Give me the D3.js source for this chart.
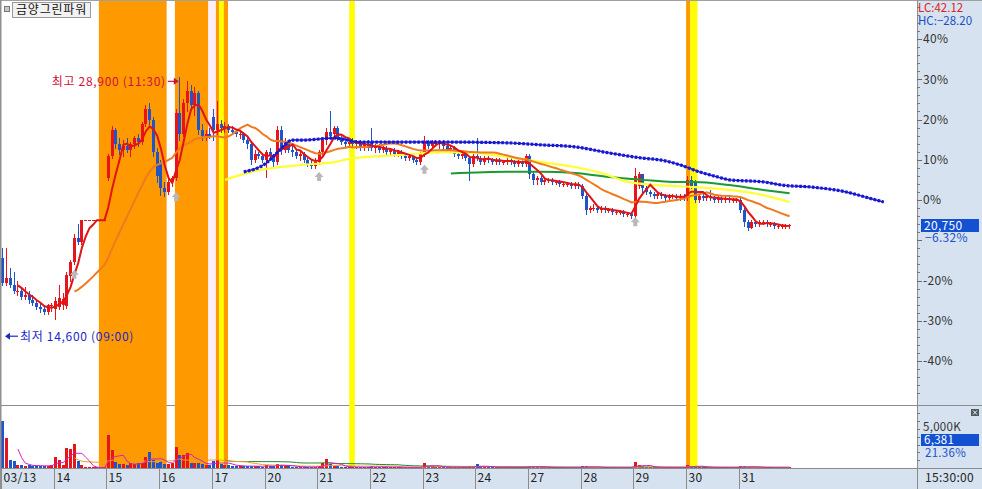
<!DOCTYPE html>
<html><head><meta charset="utf-8">
<script src="https://cdn.jsdelivr.net/npm/d3@7"></script>
<style>
body{margin:0;background:#fff;}
svg{display:block;font-family:"Noto Sans CJK KR","Noto Sans",sans-serif;font-size:12px;letter-spacing:0.3px;}
</style>
</head><body>
<svg id="c" width="982" height="489"></svg>
<script>
// ---------------- DATA ----------------
const stockName = "금양그린파워";
const days = ["03/13","14","15","16","17","20","21","22","23","24","27","28","29","30","31"];
const barsPerDay = 14;             // 30-minute bars 09:00 .. 15:30
const basePrice = 22150;           // 0% reference price
const closeTime = "15:30:00";

// OHLC in % versus basePrice, one value per 30-min bar
const open = [
 -14.5,-20.5,-19.5,-21.0,-22.5,-22.5,-24.0,-23.6,-24.8,-25.6,-26.5,-27.2,-27.8,-26.2,
 -27.0,-26.5,-26.0,-26.3,-19.0,-15.5,-9.5,-10.5,-5,-5,-5,-5,-5,-5,
 5.5,11.0,17.5,14.0,12.5,13.5,12.5,14.0,15.5,14.5,19.0,22.5,20.0,12.0,
 9.0,3.0,2.0,4.5,5.5,21.5,16.5,24.0,27.0,23.5,26.5,17.5,16.0,16.5,
 20.5,17.5,19.0,18.0,18.5,17.5,17.0,16.5,16.5,15.0,14.0,10.0,11.5,11.0,
 10.0,12.0,11.0,9.5,17.5,12.5,14.5,12.5,12.0,11.0,11.5,10.0,9.0,8.5,
 9.5,12.0,15.0,17.0,16.5,18.0,15.5,14.5,14.0,14.5,14.0,14.5,13.0,14.0,
 14.5,13.0,13.5,12.5,13.0,12.0,12.5,11.5,12.0,11.0,10.5,11.0,10.0,9.5,
 11.5,14.5,13.5,14.5,14.0,14.5,13.5,12.5,13.0,11.5,11.0,11.5,10.5,9.0,
 11.0,10.5,9.5,10.5,10.0,9.5,10.0,9.5,9.5,10.0,9.5,9.0,9.5,9.0,
 11.0,6.5,5.0,5.5,4.5,5.0,5.0,4.5,4.5,4.0,4.0,4.0,3.5,4.0,
 3.5,1.0,-2.5,-2.0,-2.0,-2.5,-2.0,-2.5,-2.5,-3.0,-3.0,-3.0,-3.5,-3.5,
 -4.0,3.5,6.5,3.0,2.0,1.5,1.0,1.5,1.0,0.5,1.0,1.0,0.5,1.0,
 0.5,5.0,4.5,0.0,1.0,0.5,1.0,0.5,0.0,0.5,0.0,0.5,0.0,0.0,
 0.0,-2.5,-5.5,-7.0,-5.5,-6.0,-5.5,-5.5,-6.0,-6.0,-6.5,-6.5,-6.5,-6.5
];
const high = [
 -11.9,-12.0,-17.0,-18.0,-20.0,-21.5,-21.5,-22.5,-23.5,-24.5,-25.5,-26.0,-25.8,-25.5,
 -24.0,-21.0,-23.0,-18.0,-15.0,-8.5,-6.0,-5.0,-5,-5,-5,-5,-5,-5,
 11.5,18.5,18.0,15.5,15.0,15.5,14.5,16.0,16.5,19.5,23.5,24.0,20.5,13.0,
 10.0,4.5,5.5,6.0,22.5,30.6,25.0,29.5,28.5,28.0,27.0,19.0,17.5,18.0,
 22.5,24.5,20.0,19.5,19.0,18.5,17.5,17.5,17.0,15.5,14.5,12.5,12.0,11.5,
 12.5,13.0,11.5,18.5,18.5,15.5,15.0,13.5,12.5,12.0,12.0,10.5,10.0,10.5,
 12.5,15.5,18.0,22.0,18.5,18.5,16.0,15.5,15.0,15.5,15.0,15.0,14.5,15.0,
 18.0,14.0,14.0,13.5,13.5,13.0,13.0,12.5,12.5,11.5,11.5,11.0,10.5,12.0,
 16.0,15.0,15.0,15.0,15.0,15.0,14.0,13.5,13.5,12.0,12.0,12.0,11.0,11.5,
 15.5,11.0,11.0,11.0,10.5,10.5,10.5,10.0,10.5,10.5,10.0,10.0,10.0,11.5,
 11.5,7.0,6.0,6.0,5.5,5.5,5.5,5.0,5.0,4.5,4.5,4.5,4.5,4.5,
 4.0,1.5,-1.5,-1.0,-1.5,-1.5,-1.5,-2.0,-2.0,-2.5,-2.5,-2.5,-3.0,-3.0,
 8.0,7.0,6.5,3.5,2.5,2.0,2.0,2.0,1.5,1.5,1.5,1.5,1.5,1.5,
 6.0,6.0,5.0,1.5,1.5,1.5,2.5,1.0,1.0,1.0,1.0,1.0,0.5,0.5,
 1.0,-2.0,-5.0,-5.0,-5.0,-5.0,-5.0,-5.0,-5.5,-5.5,-6.0,-6.0,-6.0,-6.0
];
const low = [
 -21.0,-21.0,-21.5,-23.0,-23.5,-24.5,-24.5,-25.5,-26.0,-27.0,-27.8,-28.3,-28.3,-27.6,
 -29.5,-27.0,-27.0,-26.8,-20.0,-16.0,-11.0,-11.0,-5,-5,-5,-5,-5,-5,
 5.0,10.5,13.0,11.5,11.0,12.0,11.0,13.0,13.5,14.0,18.5,19.0,11.0,4.5,
 1.2,1.0,1.5,3.5,5.0,15.0,16.0,22.0,22.5,21.0,16.5,15.0,15.0,15.5,
 15.0,16.5,17.0,17.0,17.0,16.5,16.0,15.5,14.5,13.0,9.0,9.5,10.5,9.5,
 5.7,10.0,8.5,9.0,11.5,12.0,12.0,11.0,10.5,10.0,9.5,8.5,8.0,8.0,
 9.0,11.5,14.0,15.5,15.5,15.0,14.0,13.5,13.5,13.5,13.0,12.5,12.5,12.5,
 12.5,12.0,12.0,12.0,11.5,11.5,11.0,11.0,10.5,10.0,10.0,9.5,9.0,9.0,
 11.0,13.0,13.0,13.5,13.0,13.0,12.0,12.0,11.0,10.5,10.5,10.0,5.0,8.5,
 10.0,9.0,9.0,9.5,9.0,9.0,9.0,9.0,9.0,9.0,8.5,8.5,8.5,8.5,
 5.5,4.0,4.0,4.0,4.0,4.5,4.0,4.0,3.5,3.5,3.5,3.0,3.0,3.0,
 0.5,-3.5,-3.0,-2.5,-3.0,-3.0,-3.0,-3.0,-3.5,-3.5,-3.5,-4.0,-4.0,-4.5,
 -4.5,3.0,2.0,1.5,1.0,0.5,0.5,0.5,0.0,0.0,0.5,0.0,0.0,0.0,
 0.0,3.0,-0.5,-0.5,0.0,0.0,0.0,-0.5,-0.5,-0.5,-0.5,-0.5,-0.5,-0.5,
 -3.0,-6.5,-7.5,-7.0,-6.5,-6.5,-6.0,-6.5,-6.5,-7.0,-7.0,-7.0,-7.0,-7.0
];
const close = [
 -20.5,-19.5,-21.0,-22.5,-22.5,-24.0,-23.6,-24.8,-25.6,-26.5,-27.2,-27.8,-26.2,-26.0,
 -25.0,-24.3,-24.5,-18.6,-15.5,-9.5,-10.5,-5.0,-5,-5,-5,-5,-5,-5,
 11.0,17.5,14.0,12.5,13.5,12.5,14.0,15.5,14.5,19.0,22.5,20.0,12.0,6.0,
 3.0,2.0,4.5,5.5,21.5,16.5,24.0,27.0,23.5,26.5,17.5,16.0,16.5,16.0,
 17.5,19.0,18.0,18.5,17.5,17.0,16.5,16.5,15.0,14.0,10.0,11.5,11.0,10.0,
 12.0,11.0,9.5,17.5,12.5,14.5,12.5,12.0,11.0,11.5,10.0,9.0,8.5,9.5,
 12.0,15.0,17.0,16.0,18.0,15.5,14.5,14.0,14.5,14.0,14.5,13.0,14.0,13.0,
 13.0,13.5,12.5,13.0,12.0,12.5,11.5,12.0,11.0,10.5,11.0,10.0,9.5,11.5,
 14.5,13.5,14.5,14.0,14.5,13.5,12.5,13.0,11.5,11.0,11.5,10.5,9.0,11.0,
 10.5,9.5,10.5,10.0,9.5,10.0,9.5,9.5,10.0,9.5,9.0,9.5,9.0,11.0,
 6.5,5.0,5.5,4.5,5.0,5.0,4.5,4.5,4.0,4.0,4.0,3.5,4.0,3.5,
 1.0,-2.5,-2.0,-2.0,-2.5,-2.0,-2.5,-2.5,-3.0,-3.0,-3.0,-3.5,-3.5,-4.0,
 6.0,6.5,3.0,2.0,1.5,1.0,1.5,1.0,0.5,1.0,1.0,0.5,1.0,0.5,
 5.0,3.5,0.0,1.0,0.5,1.0,0.5,0.0,0.5,0.0,0.5,0.0,0.0,0.0,
 -2.5,-5.5,-7.0,-5.5,-6.0,-5.5,-5.5,-6.0,-6.0,-6.5,-6.5,-6.5,-6.5,-6.3
];
// volume in thousand shares
const volume = [
 6000,3840,1020,930,380,380,300,350,250,300,280,250,300,400,
 1400,1000,400,2560,2430,3070,940,400,60,40,30,30,30,50,
 4220,2300,770,500,450,400,600,500,700,700,1400,2050,1000,600,
 900,500,500,700,2700,1700,1660,1900,700,700,600,500,400,400,
 900,1000,500,400,350,300,250,250,200,200,300,250,200,150,
 400,250,200,500,400,250,200,150,150,120,120,100,100,150,
 300,600,1150,500,300,200,150,150,120,120,100,100,100,100,
 200,150,150,120,100,100,100,100,100,80,80,80,80,120,
 640,300,200,150,120,100,100,100,80,80,80,80,200,150,
 500,150,120,100,80,80,80,80,60,60,60,60,60,150,
 300,150,100,80,60,60,60,50,50,50,50,50,50,60,
 200,250,100,80,60,60,50,50,50,50,50,50,50,60,
 770,400,200,150,100,80,80,60,60,60,50,50,50,60,
 400,300,250,100,80,60,60,60,50,50,50,50,40,50,
 200,250,150,100,80,60,60,50,50,50,40,40,40,6.381
];
// long averages (bar index, %)
const ma60Bar = [59,66,79,88,93,106,117,125,134,143,152,159,166,174,184,193,202,209];
const ma60Pct = [5.0,7.0,8.7,9.4,10.4,11.2,11.9,11.7,10.7,9.4,8.2,6.7,4.5,3.7,3.2,2.5,1.2,-0.5];
const ma120Bar = [119,134,143,152,161,170,178,184,193,202,209];
const ma120Pct = [6.6,7.0,7.0,6.7,5.7,5.0,4.5,4.5,3.7,2.5,1.7];
// leading span (dotted blue), extends beyond last bar
const leadBar = [64,70,73,77,80,88,95,106,117,134,143,152,161,170,175,180,185,190,193,202,207,215,224,230,234];
const leadPct = [7.0,9.2,11.9,14.9,14.9,15.4,14.4,14.4,14.4,14.2,13.7,13.2,11.7,10.4,9.9,8.7,7.0,5.7,5.0,4.5,3.7,3.2,2.0,0.5,-0.5];
// highlighted periods (bar index ranges)
const orangeBands = [[26,44],[46.2,55],[57.1,60.3],[182,183.1]];
const yellowBands = [[57.9,59.2],[92.5,94],[183.1,185]];
const paleBands = [[55,57.1]];
// buy signal markers
const signalBar = [19,46,84,112,168];
const signalPct = [-18.6,0.7,5.7,7.5,-5.5];
// extremes and last values
const hiPrice = 28900, hiTime = "11:30";
const loPrice = 14600, loTime = "09:00";
const lastPrice = 20750;
const lastVolText = "6,381", lastVolPctText = "21.36%";
const pctTicks = [40,30,20,10,0,-10,-20,-30,-40];
const pctLabels = [40,30,20,10,0,-20,-30,-40];
const volTicks = [5000];

// ---------------- CHART ----------------
const W = 982, H = 489, plotL = 1, plotR = 917, mainB = 405, volB = 468;
const nBars = days.length * barsPerDay;
const svg = d3.select("#c");
const x = d3.scaleLinear().domain([0, nBars]).range([1, 791.5]);
const y = d3.scaleLinear().domain([-40, 40]).range([361, 39]);
const yv = d3.scaleLinear().domain([0, 5000]).range([volB, 429]);
const pctOf = p => (p / basePrice - 1) * 100;
const fmt = d3.format(",");
const axisBg = "#d6e2ef", gridC = "#8c8c8c";
const RED = "#e8141c", BLUE = "#1f55c8";

svg.append("rect").attr("width", W).attr("height", H).attr("fill", "#fff");
svg.append("rect").attr("x", plotR).attr("y", 0).attr("width", W - plotR).attr("height", H).attr("fill", axisBg);
svg.append("rect").attr("x", 0).attr("y", volB).attr("width", plotR).attr("height", H - volB).attr("fill", axisBg);

const defs = svg.append("defs");
defs.append("clipPath").attr("id", "cm").append("rect").attr("x", plotL).attr("y", 0).attr("width", plotR - plotL).attr("height", mainB);
defs.append("clipPath").attr("id", "cv").append("rect").attr("x", plotL).attr("y", mainB + 1).attr("width", plotR - plotL).attr("height", volB - mainB - 1);

// divider between price and volume panels
svg.append("line").attr("x1", 0).attr("x2", W).attr("y1", mainB + 0.5).attr("y2", mainB + 0.5).attr("stroke", gridC);

// bands
const gb = svg.append("g");
const band = (arr, col) => gb.selectAll(null).data(arr).join("rect")
  .attr("x", d => x(d[0])).attr("width", d => x(d[1]) - x(d[0]))
  .attr("y", 0).attr("height", volB).attr("fill", col);
band(paleBands, "#fdeef4");
band(orangeBands, "#ff9900");
band(yellowBands, "#ffff00");

// candles
const idx = d3.range(nBars);
const gc = svg.append("g").attr("clip-path", "url(#cm)").attr("shape-rendering", "crispEdges");
const colOf = i => close[i] >= open[i] ? RED : BLUE;
const bl = i => Math.round(x(i + 0.5) - 1.5);
gc.selectAll("line").data(idx).join("line")
  .attr("x1", i => bl(i) + 1.5).attr("x2", i => bl(i) + 1.5)
  .attr("y1", i => Math.round(y(high[i]))).attr("y2", i => Math.round(y(low[i])) + 1)
  .attr("stroke", colOf);
gc.selectAll("rect").data(idx).join("rect")
  .attr("x", bl).attr("width", 3)
  .attr("y", i => Math.round(y(Math.max(open[i], close[i]))))
  .attr("height", i => Math.max(1, Math.round(y(Math.min(open[i], close[i]))) - Math.round(y(Math.max(open[i], close[i])))))
  .attr("fill", colOf);

// moving averages
function sma(arr, n) {
  const out = [];
  for (let i = n - 1; i < arr.length; i++) out.push({ i, v: d3.mean(arr.slice(i - n + 1, i + 1)) });
  return out;
}
const gl = svg.append("g").attr("clip-path", "url(#cm)").attr("fill", "none");
const lineP = d3.line().x(d => x(d.i + 0.5)).y(d => y(d.v));
const lineC = d3.line().x(d => x(d.i + 0.5)).y(d => y(d.v)).curve(d3.curveMonotoneX);
const pairs = (a, b) => a.map((v, k) => ({ i: v, v: b[k] }));
gl.append("path").attr("d", lineC(pairs(ma120Bar, ma120Pct))).attr("stroke", "#1a9a30").attr("stroke-width", 2);
gl.append("path").attr("d", lineC(pairs(ma60Bar, ma60Pct))).attr("stroke", "#ffff33").attr("stroke-width", 2.2);
gl.append("path").attr("d", lineP(sma(close, 20))).attr("stroke", "#f07a1e").attr("stroke-width", 2);
gl.append("path").attr("d", lineP(sma(close, 5))).attr("stroke", "#e01414").attr("stroke-width", 2);
// leading span dotted
const leadD = lineC(pairs(leadBar, leadPct));
gl.append("path").attr("d", leadD).attr("stroke", "#1818d0").attr("stroke-width", 1.4);
gl.append("path").attr("d", leadD).attr("stroke", "#1818d0").attr("stroke-width", 3.2)
  .attr("stroke-dasharray", "2.6 1.6");

// signal arrows
svg.append("g").selectAll("path").data(signalBar.map((b, k) => ({ b, p: signalPct[k] }))).join("path")
  .attr("d", d => { const cx = x(d.b + 0.5), cy = y(d.p);
    return `M${cx},${cy - 5}L${cx + 4.5},${cy}L${cx + 2},${cy}L${cx + 2},${cy + 4}L${cx - 2},${cy + 4}L${cx - 2},${cy}L${cx - 4.5},${cy}Z`; })
  .attr("fill", "#b8b8b8");

// volume
const gv = svg.append("g").attr("clip-path", "url(#cv)");
gv.append("g").attr("shape-rendering", "crispEdges").selectAll("rect").data(idx).join("rect")
  .attr("x", bl).attr("width", 3)
  .attr("y", i => Math.min(volB - 1, Math.round(yv(volume[i]))))
  .attr("height", i => Math.max(1, volB - Math.round(yv(volume[i]))))
  .attr("fill", colOf);
const lineV = d3.line().x(d => x(d.i + 0.5)).y(d => yv(d.v));
gv.append("path").attr("d", lineV(sma(volume, 60))).attr("fill", "none").attr("stroke", "#1a8a2a").attr("stroke-width", 1);
gv.append("path").attr("d", lineV(sma(volume, 20))).attr("fill", "none").attr("stroke", "#f0a020").attr("stroke-width", 1);
gv.append("path").attr("d", lineV(sma(volume, 5))).attr("fill", "none").attr("stroke", "#d020c8").attr("stroke-width", 1);

// frame lines
svg.append("line").attr("x1", 0).attr("x2", W).attr("y1", 0.5).attr("y2", 0.5).attr("stroke", "#a0a0a0");
svg.append("rect").attr("x", 0).attr("y", 0).attr("width", 1.5).attr("height", H).attr("fill", "#909090");
svg.append("line").attr("x1", 0).attr("x2", W).attr("y1", volB + 0.5).attr("y2", volB + 0.5).attr("stroke", gridC);
svg.append("line").attr("x1", plotR + 0.5).attr("x2", plotR + 0.5).attr("y1", 0).attr("y2", H).attr("stroke", gridC);

// right price axis
const ga = svg.append("g").attr("shape-rendering", "crispEdges");
ga.selectAll(".mn").data(d3.range(-48, 49, 2)).join("line")
  .attr("x1", plotR).attr("x2", plotR + 3)
  .attr("y1", d => Math.round(y(d)) + 0.5).attr("y2", d => Math.round(y(d)) + 0.5).attr("stroke", "#7a7a7a");
ga.selectAll(".mj").data(pctTicks).join("line")
  .attr("x1", plotR).attr("x2", plotR + 5)
  .attr("y1", d => Math.round(y(d)) + 0.5).attr("y2", d => Math.round(y(d)) + 0.5).attr("stroke", "#6a6a6a");
svg.append("g").selectAll("text").data(pctLabels).join("text")
  .attr("x", 923).attr("y", d => y(d)).attr("dy", "0.36em").attr("fill", "#333").text(d => d + "%");

// volume axis
ga.selectAll(".vm").data(d3.range(1000, 8000, 1000)).join("line")
  .attr("x1", plotR).attr("x2", plotR + 3)
  .attr("y1", d => Math.round(yv(d)) + 0.5).attr("y2", d => Math.round(yv(d)) + 0.5).attr("stroke", "#7a7a7a");
svg.append("g").selectAll("text").data(volTicks).join("text")
  .attr("x", 923).attr("y", d => yv(d) - 2).attr("dy", "0.36em").attr("fill", "#333").style("font-size", "11.5px").text(d => fmt(d) + "K");

// x axis
const dayX = days.map((d, k) => Math.round(x(k * barsPerDay)) + 0.5);
svg.append("g").selectAll("line").data(dayX).join("line")
  .attr("x1", d => d).attr("x2", d => d).attr("y1", volB).attr("y2", H).attr("stroke", gridC);
svg.append("g").selectAll("text").data(days).join("text")
  .attr("x", (d, k) => dayX[k] + 2).attr("y", 478).attr("dy", "0.36em").attr("fill", "#222").text(d => d);
svg.append("text").attr("x", 925).attr("y", 478).attr("dy", "0.36em").attr("fill", "#222").text(closeTime);

// title box
svg.append("rect").attr("x", 4.5).attr("y", 6.5).attr("width", 5).attr("height", 5).attr("fill", "#c8c8c8").attr("stroke", "#777");
svg.append("rect").attr("x", 12.5).attr("y", 2.5).attr("width", 78).attr("height", 15).attr("fill", "#f2f2f2").attr("stroke", "#9a9a9a");
svg.append("text").attr("x", 16).attr("y", 10).attr("dy", "0.36em").attr("fill", "#111").style("letter-spacing", "0.8px").text(stockName);

// high / low annotations
const hiI = d3.maxIndex(high), hx = x(hiI + 0.5), hy = y(pctOf(hiPrice)) + 4;
svg.append("text").attr("x", hx - 14).attr("y", hy).attr("dy", "0.36em").attr("text-anchor", "end")
  .style("letter-spacing", "0.7px").attr("fill", "#d0103a").text(`최고 ${fmt(hiPrice)} (${hiTime})`);
svg.append("line").attr("x1", hx - 12).attr("x2", hx - 5).attr("y1", hy).attr("y2", hy).attr("stroke", "#d0103a").attr("stroke-width", 1.2);
svg.append("path").attr("d", `M${hx - 1},${hy}L${hx - 6},${hy - 3.5}L${hx - 6},${hy + 3.5}Z`).attr("fill", "#d0103a");
const ly = y(pctOf(loPrice)) - 1, lx = x(0) + 4;
svg.append("path").attr("d", `M${lx},${ly}L${lx + 5},${ly - 3.5}L${lx + 5},${ly + 3.5}Z`).attr("fill", "#1a28c8");
svg.append("line").attr("x1", lx + 4).attr("x2", lx + 13).attr("y1", ly).attr("y2", ly).attr("stroke", "#1a28c8").attr("stroke-width", 1.2);
svg.append("text").attr("x", lx + 15).attr("y", ly).attr("dy", "0.36em").style("letter-spacing", "0.7px")
  .attr("fill", "#1a28c8").text(`최저 ${fmt(loPrice)} (${loTime})`);

// LC / HC
const f2 = d3.format(".2f");
svg.append("text").attr("x", 918).attr("y", 7.5).attr("dy", "0.36em").attr("fill", "#e02020").style("letter-spacing", "0").style("font-size", "11.5px").text(`LC:${f2((lastPrice / loPrice - 1) * 100)}`);
svg.append("text").attr("x", 918).attr("y", 20.5).attr("dy", "0.36em").attr("fill", "#2050c0").style("letter-spacing", "0").style("font-size", "11.5px").text(`HC:${f2((lastPrice / hiPrice - 1) * 100)}`);

// last price tag
const lp = y(pctOf(lastPrice));
svg.append("rect").attr("x", 921).attr("y", Math.round(lp) - 6).attr("width", 58).attr("height", 13).attr("fill", "#1450d2");
svg.append("text").attr("x", 924).attr("y", Math.round(lp) + 0.5).attr("dy", "0.36em").attr("fill", "#fff").text(fmt(lastPrice));
svg.append("text").attr("x", 925).attr("y", Math.round(lp) + 13).attr("dy", "0.36em").attr("fill", "#1f4fd0").text(`${f2(pctOf(lastPrice))}%`);

// volume tag and close icon
svg.append("rect").attr("x", 921).attr("y", 434).attr("width", 58).attr("height", 12).attr("fill", "#1450d2");
svg.append("text").attr("x", 924).attr("y", 440).attr("dy", "0.36em").attr("fill", "#fff").style("font-size", "11.5px").text(lastVolText);
svg.append("text").attr("x", 925).attr("y", 453).attr("dy", "0.36em").attr("fill", "#1f4fd0").style("font-size", "11.5px").text(lastVolPctText);
svg.append("rect").attr("x", 971).attr("y", 409).attr("width", 8).attr("height", 7).attr("fill", "#505860");
svg.append("path").attr("d", "M973,410.5L977,414.5M977,410.5L973,414.5").attr("stroke", "#fff").attr("stroke-width", 1);
</script>
</body></html>
